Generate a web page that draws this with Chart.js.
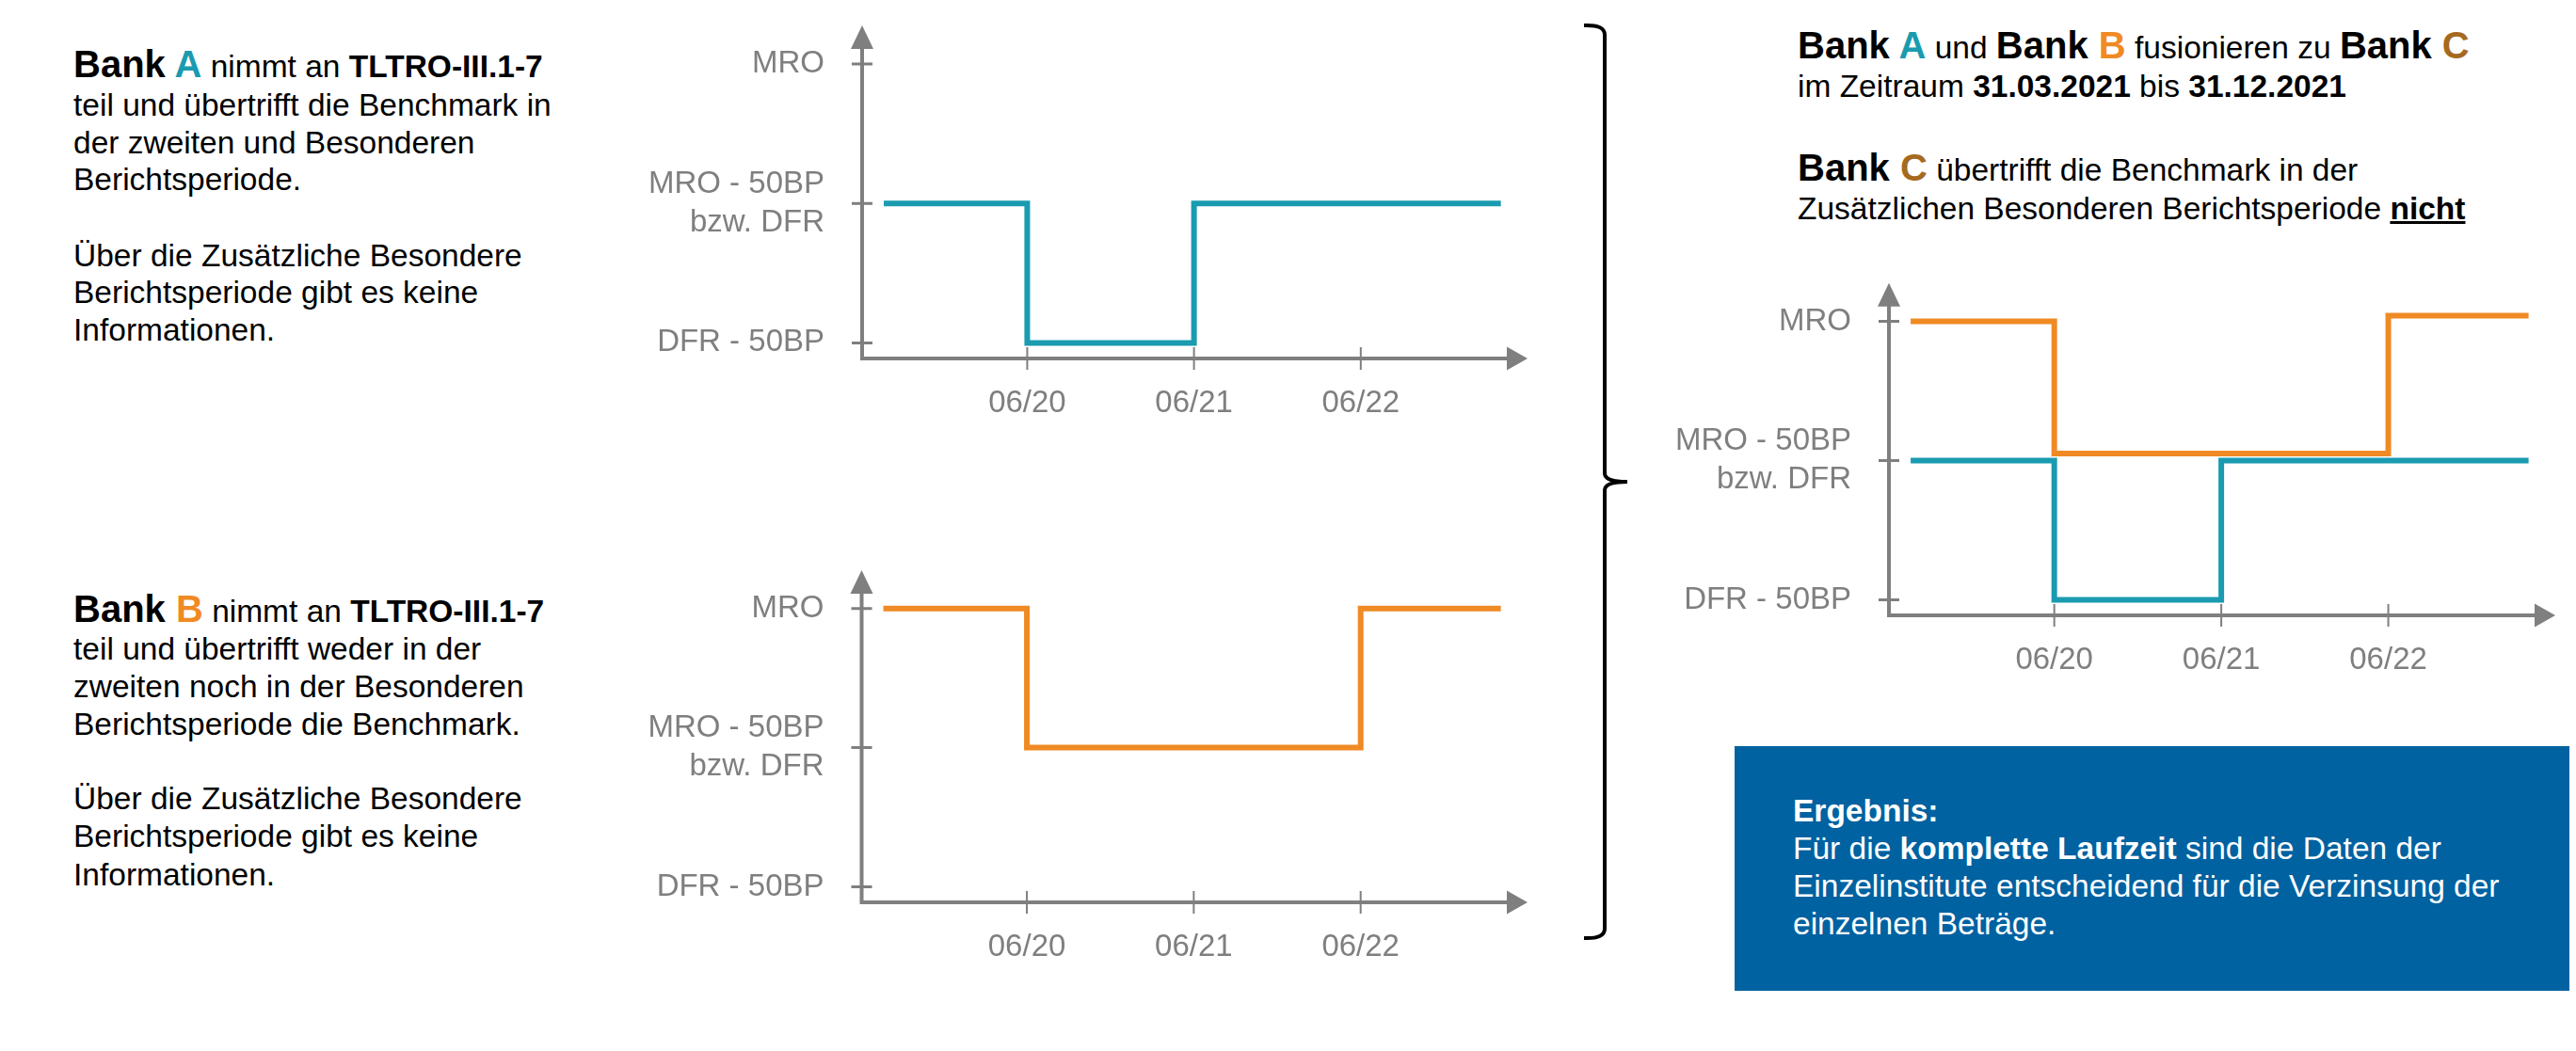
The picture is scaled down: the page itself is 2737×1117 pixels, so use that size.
<!DOCTYPE html>
<html lang="de">
<head>
<meta charset="utf-8">
<title>TLTRO-III.1-7 – Fusion von Bank A und Bank B</title>
<script src="https://cdn.jsdelivr.net/npm/chart.js@4.4.1/dist/chart.umd.min.js"></script>
<style>
  html, body { margin: 0; padding: 0; background: #fff; }
  body {
    width: 2737px; height: 1117px; position: relative; overflow: hidden;
    font-family: "Liberation Sans", Arial, sans-serif; color: #000;
  }
  .line { position: absolute; font-size: 33.5px; line-height: 40px; white-space: nowrap; }
  .big { font-size: 40px; font-weight: bold; }
  .colA { color: #1a9bb0; }
  .colB { color: #f08a24; }
  .colC { color: #a66a1f; }
  .white { color: #fff; }
  canvas { position: absolute; }
  #box { position: absolute; left: 1843px; top: 793px; width: 887px; height: 260px; background: #0062a1; }
  #brace { position: absolute; left: 0; top: 0; pointer-events: none; }
</style>
</head>
<body>

<div class="line" style="left:78px; top:47.8px"><span class="big">Bank <span class="colA">A</span></span> nimmt an <b>TLTRO-III.1-7</b></div>
<div class="line" style="left:78px; top:92.4px">teil und übertrifft die Benchmark in</div>
<div class="line" style="left:78px; top:131.7px">der zweiten und Besonderen</div>
<div class="line" style="left:78px; top:171.1px">Berichtsperiode.</div>
<div class="line" style="left:78px; top:251.7px">Über die Zusätzliche Besondere</div>
<div class="line" style="left:78px; top:290.7px">Berichtsperiode gibt es keine</div>
<div class="line" style="left:78px; top:331.1px">Informationen.</div>

<div class="line" style="left:78px; top:627.1px"><span class="big">Bank <span class="colB">B</span></span> nimmt an <b>TLTRO-III.1-7</b></div>
<div class="line" style="left:78px; top:670.1px">teil und übertrifft weder in der</div>
<div class="line" style="left:78px; top:710.1px">zweiten noch in der Besonderen</div>
<div class="line" style="left:78px; top:750.1px">Berichtsperiode die Benchmark.</div>
<div class="line" style="left:78px; top:829.1px">Über die Zusätzliche Besondere</div>
<div class="line" style="left:78px; top:869.1px">Berichtsperiode gibt es keine</div>
<div class="line" style="left:78px; top:910.1px">Informationen.</div>

<div class="line" style="left:1910px; top:27.8px"><span class="big">Bank <span class="colA">A</span></span> und <span class="big">Bank <span class="colB">B</span></span> fusionieren zu <span class="big">Bank <span class="colC">C</span></span></div>
<div class="line" style="left:1910px; top:71.7px">im Zeitraum <b>31.03.2021</b> bis <b>31.12.2021</b></div>
<div class="line" style="left:1910px; top:157.8px"><span class="big">Bank <span class="colC">C</span></span> übertrifft die Benchmark in der</div>
<div class="line" style="left:1910px; top:201.7px">Zusätzlichen Besonderen Berichtsperiode <b><u>nicht</u></b></div>

<div id="box"></div>
<div class="line white" style="left:1905px; top:841.7px"><b>Ergebnis:</b></div>
<div class="line white" style="left:1905px; top:882.4px">Für die <b>komplette Laufzeit</b> sind die Daten der</div>
<div class="line white" style="left:1905px; top:921.7px">Einzelinstitute entscheidend für die Verzinsung der</div>
<div class="line white" style="left:1905px; top:961.7px">einzelnen Beträge.</div>

<svg id="brace" width="2737" height="1117">
  <path d="M1683,27 Q1705,26 1705,37 L1705,503 Q1705,512 1729,512 Q1705,512 1705,521 L1705,987 Q1705,998 1683,997"
        fill="none" stroke="#000" stroke-width="4"/>
</svg>

<canvas id="chartA" width="980" height="451" style="left:660px; top:0px"></canvas>
<canvas id="chartB" width="980" height="449" style="left:660px; top:580px"></canvas>
<canvas id="chartC" width="985" height="444" style="left:1750px; top:280px"></canvas>

<script>
// x axis: years since 06/19
const xTickValues = [1, 2, 3];
const xTickLabels = ['06/20', '06/21', '06/22'];
// y axis: 0 = DFR - 50BP, 1 = MRO - 50BP bzw. DFR, 2 = MRO
const yTickValues = [0, 1, 2];
const yTickLabels = ['DFR - 50BP', ['MRO - 50BP', 'bzw. DFR'], 'MRO'];

// step points: start, 06/20, 06/21, 06/22, end
const stepTimes = [0.14, 1, 2, 3, 3.84];
const bankA = [1, 0, 1, 1, 1];
const bankB = [2, 1, 1, 2, 2];
const bankCfromA = [1, 0, 1, 1, 1];
const bankCfromB = [2, 1.05, 1.05, 2.04, 2.04];

const teal = '#1a9bb0';
const orange = '#f08a24';
const axisGrey = '#7f7f7f';

Chart.defaults.font.family = '"Liberation Sans", Arial, sans-serif';

const axisArrows = {
    id: 'axisArrows',
    beforeDatasetsDraw(chart) {
        const ctx = chart.ctx;
        const a = chart.chartArea;
        const x = chart.scales.x;
        const y = chart.scales.y;
        ctx.save();
        ctx.strokeStyle = axisGrey;
        ctx.fillStyle = axisGrey;
        ctx.lineWidth = 4;
        ctx.beginPath();
        ctx.moveTo(a.left, a.bottom);
        ctx.lineTo(a.left, a.top + 20);
        ctx.moveTo(a.left - 2, a.bottom);
        ctx.lineTo(a.right - 18, a.bottom);
        ctx.stroke();

        ctx.beginPath();
        ctx.moveTo(a.left, a.top);
        ctx.lineTo(a.left - 12, a.top + 25);
        ctx.lineTo(a.left + 12, a.top + 25);
        ctx.closePath();
        ctx.moveTo(a.right, a.bottom);
        ctx.lineTo(a.right - 22, a.bottom - 12.5);
        ctx.lineTo(a.right - 22, a.bottom + 12.5);
        ctx.closePath();
        ctx.fill();

        ctx.lineWidth = 3;
        ctx.beginPath();
        yTickValues.forEach(v => {
            const py = y.getPixelForValue(v);
            ctx.moveTo(a.left - 11, py);
            ctx.lineTo(a.left + 11, py);
        });
        ctx.stroke();

        ctx.lineWidth = 2;
        ctx.beginPath();
        xTickValues.forEach(v => {
            const px = x.getPixelForValue(v);
            ctx.moveTo(px, a.bottom - 12);
            ctx.lineTo(px, a.bottom + 12);
        });
        ctx.stroke();
        ctx.restore();
    }
};

function stepSeries(levels, color) {
    return {
        data: stepTimes.map((t, i) => ({ x: t, y: levels[i] })),
        borderColor: color,
        borderWidth: 6,
        stepped: 'before',
        pointRadius: 0,
        fill: false,
        borderCapStyle: 'butt',
        borderJoinStyle: 'miter'
    };
}

function makeChart(id, datasets, yWidth, padding) {
    return new Chart(document.getElementById(id), {
        type: 'line',
        data: { datasets: datasets },
        options: {
            responsive: false,
            animation: false,
            devicePixelRatio: 1,
            layout: { padding: padding },
            plugins: { legend: { display: false }, tooltip: { enabled: false } },
            scales: {
                x: {
                    type: 'linear',
                    min: 0.01,
                    max: 4,
                    grid: { display: false },
                    border: { display: false },
                    afterBuildTicks: s => { s.ticks = xTickValues.map(v => ({ value: v })); },
                    afterFit: s => {
                        s.height = 70;
                        s.paddingLeft = 0;
                        s.paddingRight = 0;
                    },
                    ticks: {
                        autoSkip: false,
                        maxRotation: 0,
                        padding: 19,
                        color: axisGrey,
                        font: { size: 33, lineHeight: 1.24 },
                        callback: (v, i) => xTickLabels[i]
                    }
                },
                y: {
                    type: 'linear',
                    min: -0.112,
                    max: 2.276,
                    grid: { display: false },
                    border: { display: false },
                    afterBuildTicks: s => { s.ticks = yTickValues.map(v => ({ value: v })); },
                    afterFit: s => {
                        s.width = yWidth;
                        s.paddingTop = 0;
                        s.paddingBottom = 0;
                    },
                    ticks: {
                        padding: 32,
                        color: axisGrey,
                        font: { size: 33, lineHeight: 1.24 },
                        callback: (v, i) => yTickLabels[i]
                    }
                }
            }
        },
        plugins: [axisArrows]
    });
}

makeChart('chartA', [stepSeries(bankA, teal)], 256, { top: 27, right: 17, left: 0, bottom: 0 });
makeChart('chartB', [stepSeries(bankB, orange)], 255.5, { top: 26, right: 17, left: 0, bottom: 0 });
makeChart('chartC', [stepSeries(bankCfromA, teal), stepSeries(bankCfromB, orange)], 257, { top: 20.7, right: 20, left: 0, bottom: 0 });
</script>
</body>
</html>
